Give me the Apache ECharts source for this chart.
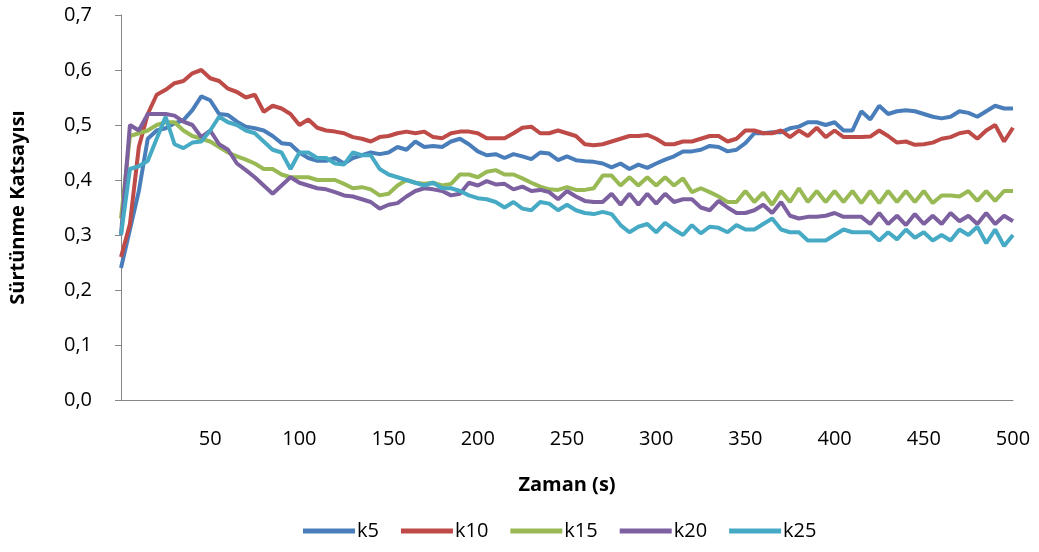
<!DOCTYPE html>
<html lang="tr">
<head>
    <meta charset="UTF-8">
    <title>Sürtünme Katsayısı</title>
    <script src="https://cdn.jsdelivr.net/npm/echarts@6/dist/echarts.min.js"></script>
    <style>
        html, body { margin: 0; padding: 0; background: #fff; }
        #chart { width: 1039px; height: 552px; }
    </style>
</head>
<body>
    <div id="chart"></div>
    <script>
        // sample times, every 5 s from 0 to 500
        const times = Array.from({ length: 101 }, (_, i) => i * 5);

        const xTicks = [50, 100, 150, 200, 250, 300, 350, 400, 450, 500];
        const seriesNames = ['k5', 'k10', 'k15', 'k20', 'k25'];

        const k5 = [
            0.24, 0.31, 0.38, 0.475, 0.49, 0.494, 0.503, 0.509, 0.527, 0.552, 0.545, 0.52, 0.518, 0.506, 0.497, 0.494, 0.49,
            0.48, 0.467, 0.465, 0.45, 0.44, 0.435, 0.435, 0.44, 0.43, 0.44, 0.445, 0.45, 0.447, 0.45, 0.46, 0.455, 0.47,
            0.46, 0.462, 0.46, 0.47, 0.475, 0.465, 0.452, 0.445, 0.447, 0.44, 0.447, 0.443, 0.438, 0.45, 0.448, 0.436, 0.443,
            0.436, 0.434, 0.433, 0.43, 0.423, 0.43, 0.42, 0.428, 0.422, 0.43, 0.437, 0.443, 0.452, 0.452, 0.455, 0.462,
            0.46, 0.452, 0.455, 0.467, 0.485, 0.485, 0.487, 0.487, 0.494, 0.497, 0.505, 0.505, 0.5, 0.505, 0.49, 0.49, 0.525,
            0.51, 0.535, 0.52, 0.525, 0.527, 0.525, 0.52, 0.515, 0.512, 0.515, 0.525, 0.522, 0.515, 0.525, 0.535, 0.53, 0.53
        ];
        const k10 = [
            0.26, 0.32, 0.46, 0.52, 0.555, 0.564, 0.576, 0.58, 0.594, 0.6, 0.585, 0.58, 0.566, 0.56, 0.55, 0.555, 0.524,
            0.535, 0.53, 0.52, 0.5, 0.51, 0.495, 0.49, 0.488, 0.485, 0.478, 0.475, 0.47, 0.478, 0.48, 0.485, 0.488, 0.485,
            0.488, 0.478, 0.476, 0.485, 0.488, 0.488, 0.485, 0.476, 0.476, 0.476, 0.485, 0.495, 0.497, 0.485, 0.485, 0.49, 0.485,
            0.48, 0.465, 0.463, 0.465, 0.47, 0.475, 0.48, 0.48, 0.482, 0.475, 0.465, 0.465, 0.47, 0.47, 0.475, 0.48,
            0.48, 0.47, 0.475, 0.49, 0.49, 0.485, 0.485, 0.49, 0.478, 0.49, 0.48, 0.495, 0.478, 0.49, 0.478, 0.478, 0.478,
            0.479, 0.49, 0.48, 0.468, 0.47, 0.464, 0.465, 0.468, 0.475, 0.478, 0.485, 0.488, 0.475, 0.49, 0.5, 0.47, 0.495
        ];
        const k15 = [
            0.33, 0.48, 0.485, 0.49, 0.5, 0.505, 0.505, 0.49, 0.48, 0.475, 0.47, 0.46, 0.45, 0.443, 0.437, 0.43, 0.42,
            0.42, 0.41, 0.405, 0.405, 0.405, 0.4, 0.4, 0.4, 0.393, 0.385, 0.387, 0.383, 0.372, 0.375, 0.39, 0.4, 0.395,
            0.393, 0.395, 0.39, 0.393, 0.41, 0.41, 0.405, 0.415, 0.418, 0.41, 0.41, 0.403, 0.395, 0.388, 0.383, 0.382, 0.387,
            0.382, 0.382, 0.385, 0.408, 0.408, 0.39, 0.405, 0.39, 0.405, 0.39, 0.405, 0.39, 0.403, 0.378, 0.385, 0.378,
            0.37, 0.36, 0.36, 0.38, 0.36, 0.377, 0.355, 0.38, 0.36, 0.385, 0.36, 0.38, 0.36, 0.38, 0.36, 0.38, 0.358,
            0.38, 0.358, 0.38, 0.36, 0.38, 0.36, 0.38, 0.358, 0.372, 0.372, 0.37, 0.38, 0.362, 0.38, 0.362, 0.38, 0.38
        ];
        const k20 = [
            0.3, 0.5, 0.49, 0.52, 0.52, 0.52, 0.517, 0.506, 0.5, 0.478, 0.49, 0.465, 0.455, 0.43, 0.418, 0.405, 0.39,
            0.375, 0.39, 0.405, 0.395, 0.39, 0.385, 0.383, 0.378, 0.372, 0.37, 0.365, 0.36, 0.348, 0.355, 0.358, 0.37, 0.38,
            0.385, 0.383, 0.38, 0.372, 0.375, 0.395, 0.39, 0.398, 0.392, 0.393, 0.383, 0.388, 0.38, 0.382, 0.378, 0.365, 0.38,
            0.37, 0.362, 0.36, 0.36, 0.375, 0.355, 0.375, 0.355, 0.375, 0.357, 0.375, 0.36, 0.365, 0.365, 0.35, 0.345,
            0.362, 0.35, 0.34, 0.34, 0.345, 0.355, 0.34, 0.36, 0.335, 0.33, 0.333, 0.333, 0.335, 0.34, 0.333, 0.333, 0.333,
            0.32, 0.34, 0.32, 0.335, 0.318, 0.338, 0.32, 0.335, 0.32, 0.34, 0.325, 0.335, 0.32, 0.34, 0.32, 0.335, 0.325
        ];
        const k25 = [
            0.3, 0.42, 0.425, 0.435, 0.475, 0.515, 0.465, 0.458, 0.468, 0.47, 0.49, 0.515, 0.505, 0.5, 0.49, 0.485, 0.47,
            0.455, 0.45, 0.42, 0.45, 0.45, 0.44, 0.44, 0.43, 0.428, 0.45, 0.445, 0.445, 0.42, 0.41, 0.405, 0.4, 0.395,
            0.39, 0.395, 0.385, 0.385, 0.38, 0.372, 0.367, 0.365, 0.36, 0.35, 0.36, 0.348, 0.345, 0.36, 0.357, 0.345, 0.355,
            0.345, 0.34, 0.338, 0.342, 0.338, 0.318, 0.305, 0.315, 0.32, 0.305, 0.322, 0.31, 0.3, 0.318, 0.303, 0.315,
            0.313, 0.305, 0.318, 0.31, 0.31, 0.32, 0.33, 0.31, 0.305, 0.305, 0.29, 0.29, 0.29, 0.3, 0.31, 0.305, 0.305,
            0.305, 0.29, 0.305, 0.292, 0.31, 0.295, 0.305, 0.29, 0.3, 0.29, 0.31, 0.3, 0.315, 0.285, 0.31, 0.28, 0.3
        ];

        const allSeries = [k5, k10, k15, k20, k25];
        const colors = ['#4A7EBB', '#BE4B48', '#98B954', '#7D60A0', '#46AAC5'];

        const font = '"Open Sans", "DejaVu Sans", sans-serif';

        const chart = echarts.init(document.getElementById('chart'));

        const option = {
            animation: false,
            color: colors,
            grid: { left: 115, right: 26, top: 15, bottom: 152, containLabel: false },
            legend: {
                bottom: 6,
                left: 298,
                icon: 'rect',
                itemWidth: 52,
                itemHeight: 5,
                itemGap: 22,
                textStyle: { fontFamily: font, fontSize: 20, color: '#000', padding: [0, 0, 0, -3] },
                data: seriesNames
            },
            xAxis: {
                type: 'value',
                min: 0,
                max: 500,
                interval: 50,
                name: 'Zaman (s)',
                nameLocation: 'middle',
                nameGap: 75,
                nameTextStyle: { fontFamily: font, fontSize: 20, fontWeight: 'bold', color: '#000' },
                axisLine: { lineStyle: { color: '#868686', width: 1 } },
                axisTick: { show: false },
                splitLine: { show: false },
                axisLabel: {
                    margin: 29,
                    fontFamily: font,
                    fontSize: 20,
                    color: '#000',
                    formatter: v => (xTicks.includes(v) ? String(v) : '')
                }
            },
            yAxis: {
                type: 'value',
                min: 0,
                max: 0.7,
                interval: 0.1,
                name: 'Sürtünme Katsayısı',
                nameLocation: 'middle',
                nameGap: 93,
                nameTextStyle: { fontFamily: font, fontSize: 20, fontWeight: 'bold', color: '#000' },
                axisLine: { show: true, lineStyle: { color: '#868686', width: 1 } },
                axisTick: { show: true, length: 6, lineStyle: { color: '#868686' } },
                splitLine: { show: false },
                axisLabel: {
                    margin: 29,
                    fontFamily: font,
                    fontSize: 20,
                    color: '#000',
                    formatter: v => v.toFixed(1).replace('.', ',')
                }
            },
            series: seriesNames.map((name, i) => ({
                name: name,
                type: 'line',
                showSymbol: false,
                symbol: 'none',
                data: times.map((t, j) => [t, allSeries[i][j]]),
                lineStyle: { width: 4, color: colors[i] },
                itemStyle: { color: colors[i] }
            }))
        };

        chart.setOption(option);
    </script>
</body>
</html>
